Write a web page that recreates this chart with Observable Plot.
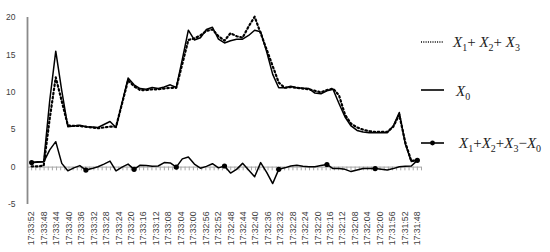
<!DOCTYPE html>
<html><head><meta charset="utf-8">
<script src="https://cdn.jsdelivr.net/npm/d3@7"></script>
<script src="https://cdn.jsdelivr.net/npm/@observablehq/plot@0.6"></script>
<style>
html,body{margin:0;padding:0;background:#fff;}
#wrap{position:relative;width:550px;height:252px;overflow:hidden;}
.leg{position:absolute;font-family:"Liberation Serif",serif;font-size:15px;line-height:15px;color:#222;white-space:nowrap;}
.leg i{font-style:italic;}
.leg sub{font-size:10px;vertical-align:-4px;line-height:0;}
#legsw{position:absolute;left:0;top:0;pointer-events:none;}
</style></head><body><div id="wrap"></div>
<script>
// Category (time) tick labels
const tickLabels = ["17:33:52","17:33:48","17:33:44","17:33:40","17:33:36","17:33:32","17:33:28","17:33:24","17:33:20","17:33:16","17:33:12","17:33:08","17:33:04","17:33:00","17:32:56","17:32:52","17:32:48","17:32:44","17:32:40","17:32:36","17:32:32","17:32:28","17:32:24","17:32:20","17:32:16","17:32:12","17:32:08","17:32:04","17:32:00","17:31:56","17:31:52","17:31:48"];
// X0
const seriesX0 = [0.6,0.7,0.7,8.9,15.5,10.2,5.4,5.5,5.6,5.4,
5.35,5.3,5.7,6.1,5.3,8.6,11.9,11.0,10.5,10.4,
10.65,10.5,10.7,11.0,10.65,14.4,18.3,17.0,17.3,18.4,
18.7,17.1,16.6,16.9,17.1,17.1,17.6,18.3,18.1,15.4,
12.4,10.6,10.6,10.8,10.6,10.55,10.5,9.9,9.8,10.2,
10.4,8.5,6.7,5.5,4.9,4.7,4.6,4.6,4.6,4.6,
5.5,7.3,3.1,0.75,0.9];
// X1+X2+X3
const seriesSum = [0.1,0.1,0.2,6.5,12.0,8.8,5.6,5.5,5.5,5.4,
5.3,5.2,5.3,5.4,5.4,8.5,11.6,10.8,10.3,10.3,
10.4,10.4,10.5,10.6,10.6,13.8,17.0,17.2,17.6,18.2,
18.4,17.5,16.9,17.9,17.5,17.3,18.8,20.1,17.9,15.7,
13.5,11.3,10.6,10.7,10.6,10.5,10.4,10.2,10.0,10.3,
10.5,9.6,7.0,5.8,5.3,5.0,4.8,4.7,4.7,4.7,
5.4,7.0,3.3,0.8,1.0];
// X1+X2+X3-X0
const seriesDiff = [0.6,0.65,0.7,2.3,3.4,0.5,-0.5,-0.1,0.2,-0.4,
-0.2,0.05,0.4,0.8,-0.5,0.0,0.4,-0.3,0.25,0.2,
0.1,0.15,0.6,0.55,0.0,1.1,1.35,0.4,-0.15,0.1,
0.45,-0.1,0.15,-0.8,-0.3,0.5,-0.4,-1.3,0.6,-0.7,
-2.2,-0.3,-0.1,0.15,0.25,0.1,0.05,0.05,0.2,0.35,
-0.2,-0.2,-0.3,-0.6,-0.4,-0.2,-0.2,-0.2,-0.3,-0.4,
-0.2,0.05,0.1,0.15,0.9];
// samples that carry a marker in the difference series
const markerIdx = [0,9,17,24,32,41,49,57,64];
const yTicks = [-5,0,5,10,15,20];

const SPAN = 124; // seconds from 17:33:52 to 17:31:48
const STEP = 4/3; // category-axis tick spacing (s)
const X_LO = -STEP, X_HI = SPAN + STEP;
const n = seriesX0.length;
const rows = seriesX0.map((v,j)=>({t: j*SPAN/(n-1), x0: v, sum: seriesSum[j], diff: seriesDiff[j]}));
const labelT = tickLabels.map((_,k)=>k*SPAN/(tickLabels.length-1));
const labelOf = new Map(labelT.map((t,k)=>[t, tickLabels[k]]));
const minorTicks = d3.range(0, X_HI + 0.01, STEP);

const chart = Plot.plot({
  width: 550, height: 252,
  marginLeft: 27, marginRight: 129, marginTop: 17, marginBottom: 48,
  x: {domain: [X_LO, X_HI]},
  y: {domain: [-5, 20]},
  style: {fontFamily: "Liberation Sans, Arial, sans-serif", background: "white", color: "#404040"},
  marks: [
    Plot.ruleY([0], {stroke: "#a6a6a6"}),
    Plot.ruleX(minorTicks, {y1: 0, y2: -0.5, stroke: "#a6a6a6"}),
    Plot.axisY(yTicks, {tickSize: 0, tickPadding: 12, fontSize: 8.5, tickFormat: d => String(d), label: null}),
    Plot.axisX(labelT, {tickSize: 0, tickRotate: -90, tickPadding: 7, fontSize: 8.7, tickFormat: d => labelOf.get(d), label: null}),
    Plot.line(rows, {x: "t", y: "sum", stroke: "#000", strokeWidth: 2.2, strokeDasharray: "1.6,2.6"}),
    Plot.line(rows, {x: "t", y: "x0", stroke: "#000", strokeWidth: 1.5}),
    Plot.line(rows, {x: "t", y: "diff", stroke: "#000", strokeWidth: 1.5}),
    Plot.dot(markerIdx.map(j => rows[j]), {x: "t", y: "diff", r: 2.6, fill: "#000", stroke: "none"}),
    Plot.ruleX([X_LO], {stroke: "#8a8a8a", strokeWidth: 1.8})
  ]
});
const wrap = document.getElementById("wrap");
wrap.appendChild(chart);

// Legend (to the right of the plot)
const sw = document.createElementNS("http://www.w3.org/2000/svg","svg");
sw.setAttribute("id","legsw"); sw.setAttribute("width","550"); sw.setAttribute("height","252");
sw.innerHTML = `
<line x1="421" x2="444" y1="42" y2="42" stroke="#000" stroke-width="1.3" stroke-dasharray="1,1.3"/>
<line x1="421" x2="444" y1="90" y2="90" stroke="#000" stroke-width="1.6"/>
<line x1="421" x2="444" y1="143" y2="143" stroke="#000" stroke-width="1.6"/>
<circle cx="432.5" cy="143" r="2.4" fill="#000"/>`;
wrap.appendChild(sw);
const legs = [
  {left: 453, top: 34.5, html: '<i>X</i><sub>1</sub>+ <i>X</i><sub>2</sub>+ <i>X</i><sub>3</sub>'},
  {left: 456, top: 84, html: '<i>X</i><sub>0</sub>'},
  {left: 459, top: 135.5, html: '<i>X</i><sub>1</sub>+<i>X</i><sub>2</sub>+<i>X</i><sub>3</sub>\u2212<i>X</i><sub>0</sub>'}
];
for (const l of legs) {
  const d = document.createElement("div");
  d.className = "leg"; d.style.left = l.left + "px"; d.style.top = l.top + "px";
  d.innerHTML = l.html; wrap.appendChild(d);
}
</script></body></html>
